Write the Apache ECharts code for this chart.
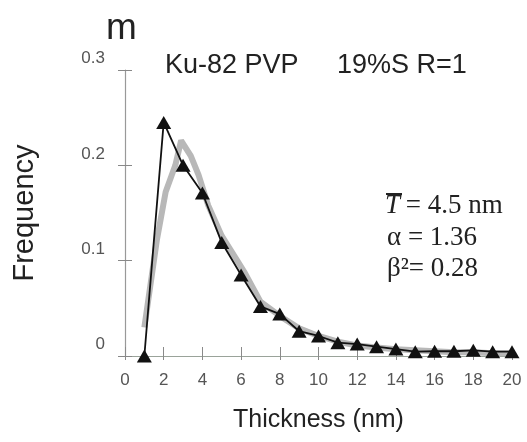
<!DOCTYPE html>
<html>
<head>
<meta charset="utf-8">
<script src="https://cdn.jsdelivr.net/npm/echarts@6/dist/echarts.min.js"></script>
<style>
html,body{margin:0;padding:0;background:#fff;}
#chart{width:527px;height:442px;}
</style>
</head>
<body>
<div id="chart"></div>
<script>
// Measured frequency distribution (black triangles)
var thickness = [1,2,3,4,5,6,7,8,9,10,11,12,13,14,15,16,17,18,19,20];
var frequency = [0,0.245,0.200,0.171,0.119,0.085,0.052,0.044,0.026,0.021,0.014,0.0125,0.0098,0.0073,0.0045,0.005,0.005,0.006,0.0045,0.0045];
// Fitted curve (thick grey line)
var fitX = [1,1.65,2.1,2.6,2.9,3.4,3.8,4.3,5,5.8,6.2,7,8,9,10,11,12,13,14,15,16,17,18,19,20];
var fitY = [0.03,0.122,0.172,0.200,0.226,0.210,0.190,0.158,0.126,0.100,0.087,0.057,0.042,0.029,0.021,0.015,0.011,0.009,0.007,0.006,0.005,0.004,0.004,0.003,0.003];
var xTicks = [0,2,4,6,8,10,12,14,16,18,20];
var yTicks = [0,0.1,0.2,0.3];
var panelLetter = 'm';
var sampleName = 'Ku-82 PVP';
var sampleCond = '19%S R=1';
var statT = ' = 4.5 nm';
var statAlpha = 'α = 1.36';
var statBeta = 'β²= 0.28';

function pairs(xs, ys){ return xs.map(function(x,i){ return [x, ys[i]]; }); }

var chart = echarts.init(document.getElementById('chart'), null, {renderer:'canvas'});
var sans = 'Liberation Sans, Arial, sans-serif';
var serif = 'Liberation Serif, Times New Roman, serif';
chart.setOption({
  backgroundColor:'#fff',
  animation:false,
  grid:{left:125, right:15, top:70, bottom:86},
  xAxis:[{
    type:'value', min:xTicks[0], max:xTicks[xTicks.length-1], interval:2, position:'bottom',
    axisLine:{lineStyle:{color:'#9aa39a', width:1.2}},
    axisTick:{inside:true, length:9, lineStyle:{color:'#8a8a8a'}},
    axisLabel:{color:'#555', fontSize:17, fontFamily:sans, margin:16},
    splitLine:{show:false},
    name:'Thickness (nm)', nameLocation:'middle', nameGap:52,
    nameTextStyle:{color:'#222', fontSize:25, fontFamily:sans}
  },{
    type:'value', min:xTicks[0], max:xTicks[xTicks.length-1], interval:2, position:'bottom',
    axisLine:{show:false}, axisLabel:{show:false}, splitLine:{show:false},
    axisTick:{inside:false, length:4, lineStyle:{color:'#8a8a8a'}}
  }],
  yAxis:[{
    type:'value', min:0, max:yTicks[yTicks.length-1], interval:0.1, position:'left',
    axisLine:{show:true, lineStyle:{color:'#999', width:1.2}},
    axisTick:{show:true, inside:false, length:7, lineStyle:{color:'#888'}},
    axisLabel:{color:'#555', fontSize:17, fontFamily:sans, margin:20, verticalAlign:'bottom', padding:[0,0,3,0]},
    splitLine:{show:false},
    name:'Frequency', nameLocation:'middle', nameRotate:90, nameGap:86,
    nameTextStyle:{color:'#222', fontSize:29, fontFamily:sans}
  },{
    type:'value', min:0, max:yTicks[yTicks.length-1], interval:0.1, position:'left',
    axisLine:{show:false}, axisLabel:{show:false}, splitLine:{show:false},
    axisTick:{show:true, inside:true, length:7, lineStyle:{color:'#888'}}
  }],
  series:[{
    type:'line', data:pairs(fitX, fitY), showSymbol:false, symbol:'none',
    lineStyle:{color:'#b8b8b8', width:6}, z:2, silent:true
  },{
    type:'line', data:pairs(thickness, frequency),
    symbol:'triangle', symbolSize:[15,13],
    itemStyle:{color:'#111'},
    lineStyle:{color:'#111', width:1.8}, z:3
  }],
  graphic:[
    {type:'text', left:106, top:10, style:{text:panelLetter, fill:'#222', font:'37px '+sans}},
    {type:'text', left:165, top:52, style:{text:sampleName, fill:'#222', font:'27px '+sans}},
    {type:'text', left:337, top:52, style:{text:sampleCond, fill:'#222', font:'27px '+sans}},
    {type:'text', left:385, top:192, style:{text:'T', fill:'#222', font:'italic 27px '+serif}},
    {type:'line', shape:{x1:386, y1:194, x2:402, y2:194}, style:{stroke:'#222', lineWidth:2}},
    {type:'text', left:399, top:192, style:{text:statT, fill:'#222', font:'27px '+serif}},
    {type:'text', left:387, top:224, style:{text:statAlpha, fill:'#222', font:'27px '+serif}},
    {type:'text', left:387, top:255, style:{text:statBeta, fill:'#222', font:'27px '+serif}}
  ]
});
</script>
</body>
</html>
